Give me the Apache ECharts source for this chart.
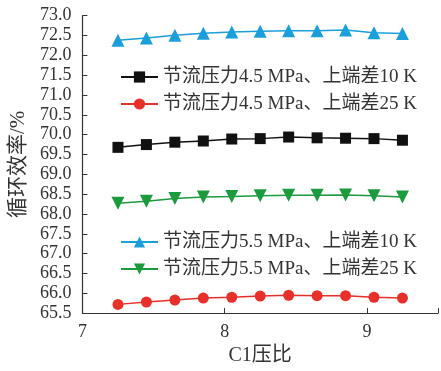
<!DOCTYPE html>
<html><head><meta charset="utf-8">
<script src="https://cdn.jsdelivr.net/npm/echarts@6/dist/echarts.min.js"></script>
<style>html,body{margin:0;padding:0;background:#fff}#c{width:441px;height:371px}</style>
</head><body><div id="c"></div>
<script>
const xValues = [7.25, 7.45, 7.65, 7.85, 8.05, 8.25, 8.45, 8.65, 8.85, 9.05, 9.25];
const s45_10 = [69.68, 69.75, 69.81, 69.84, 69.89, 69.90, 69.94, 69.92, 69.91, 69.90, 69.86];
const s45_25 = [65.72, 65.78, 65.83, 65.88, 65.90, 65.93, 65.95, 65.94, 65.94, 65.90, 65.88];
const s55_10 = [72.38, 72.44, 72.51, 72.56, 72.59, 72.61, 72.62, 72.62, 72.64, 72.57, 72.55];
const s55_25 = [68.27, 68.32, 68.39, 68.43, 68.44, 68.46, 68.47, 68.47, 68.48, 68.46, 68.43];
const names = ['节流压力4.5 MPa、上端差10 K', '节流压力4.5 MPa、上端差25 K', '节流压力5.5 MPa、上端差10 K', '节流压力5.5 MPa、上端差25 K'];
const xAxisName = 'C1压比';
const yAxisName = '循环效率/%';

const FONT = '"Liberation Serif", "Noto Sans CJK SC", serif';
const pair = (ys) => xValues.map((x, i) => [x, ys[i]]);
function mk(name, ys, color, symbol, size, rotate) {
  return {
    name, type: 'line', data: pair(ys), symbol, symbolSize: size, symbolRotate: rotate || 0,
    lineStyle: { color, width: 1.5 }, itemStyle: { color }, animation: false
  };
}
const chart = echarts.init(document.getElementById('c'), null, { renderer: 'canvas' });
const legendCommon = {
  left: 120, padding: 0, orient: 'vertical', itemWidth: 37, itemHeight: 14, itemGap: 8,
  textStyle: { fontFamily: FONT, fontSize: 19, color: '#333', lineHeight: 19 }
};
chart.setOption({
  backgroundColor: '#ffffff',
  grid: { left: 82, right: 2, top: 15.7, bottom: 52.7 },
  legend: [
    Object.assign({ top: 67.5, data: [names[0], names[1]] }, legendCommon),
    Object.assign({ top: 232.5, data: [names[2], names[3]] }, legendCommon)
  ],
  xAxis: {
    type: 'value', min: 7, max: 9.5, interval: 1,
    name: xAxisName, nameLocation: 'middle', nameGap: 31,
    nameTextStyle: { fontFamily: FONT, fontSize: 20, color: '#333' },
    axisLine: { lineStyle: { color: '#333', width: 1.2 } },
    axisTick: { inside: true, length: 5, lineStyle: { color: '#333' } },
    axisLabel: { fontFamily: FONT, fontSize: 18, color: '#333', margin: 10,
      formatter: v => (Number.isInteger(v) ? String(v) : '') },
    splitLine: { show: false }
  },
  yAxis: {
    type: 'value', min: 65.5, max: 73, interval: 0.5,
    name: yAxisName, nameLocation: 'middle', nameGap: 50,
    nameTextStyle: { fontFamily: FONT, fontSize: 21, color: '#333' },
    axisLine: { show: true, lineStyle: { color: '#333', width: 1.2 } },
    axisTick: { show: true, inside: true, length: 5, lineStyle: { color: '#333' } },
    axisLabel: { fontFamily: FONT, fontSize: 18, color: '#333', margin: 11,
      formatter: v => v.toFixed(1) },
    splitLine: { show: false }
  },
  series: [
    mk(names[0], s45_10, '#111111', 'rect', 11),
    mk(names[1], s45_25, '#e8302a', 'circle', 11),
    mk(names[2], s55_10, '#1a9fdb', 'triangle', 13),
    mk(names[3], s55_25, '#1c9a3e', 'triangle', 13, 180)
  ]
});
</script></body></html>
